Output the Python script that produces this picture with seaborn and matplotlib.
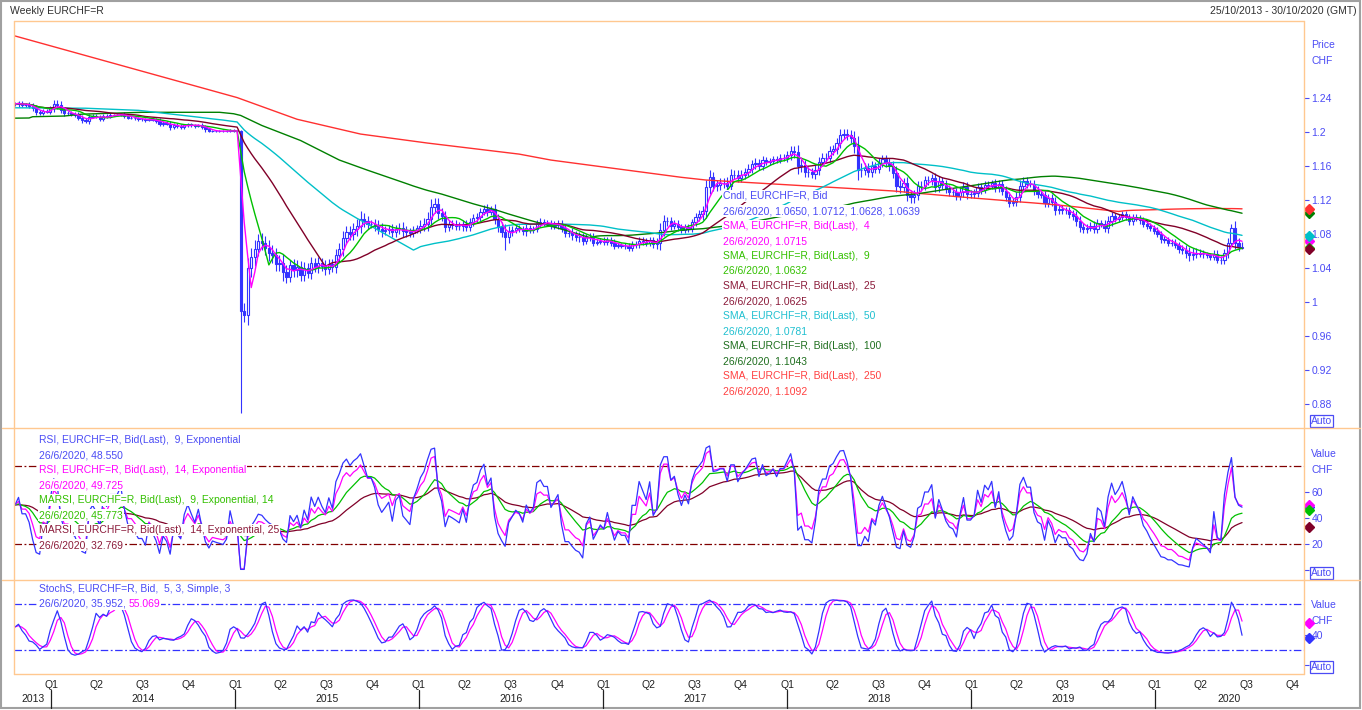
import numpy as np
import pandas as pd
import matplotlib
matplotlib.use("Agg")
import matplotlib.pyplot as plt
import matplotlib.dates as mdates
import matplotlib.transforms as mtransforms
from matplotlib.lines import Line2D
from matplotlib.patches import Rectangle
import seaborn as sns

# ---- data: weekly EURCHF=R bid, 25/10/2013 .. 26/6/2020 ----
first_week = "2013-10-25"
first_open = 1.2330
closes = [
    1.233, 1.234, 1.232, 1.232, 1.231, 1.228, 1.223, 1.222, 1.225, 1.224,
    1.228, 1.233, 1.232, 1.226, 1.222, 1.222, 1.221, 1.220, 1.217, 1.214,
    1.213, 1.218, 1.219, 1.218, 1.215, 1.219, 1.218, 1.220, 1.220, 1.220,
    1.221, 1.219, 1.217, 1.217, 1.216, 1.215, 1.215, 1.214, 1.215, 1.214,
    1.213, 1.210, 1.211, 1.210, 1.206, 1.208, 1.207, 1.206, 1.208, 1.209,
    1.208, 1.207, 1.208, 1.206, 1.203, 1.201, 1.2015, 1.2012, 1.2010, 1.2008,
    1.2010, 1.2022, 1.2010, 1.2010, 0.990, 0.985, 1.040, 1.053, 1.062, 1.072,
    1.070, 1.063, 1.058, 1.055, 1.045, 1.046, 1.035, 1.030, 1.043, 1.038,
    1.041, 1.032, 1.040, 1.034, 1.046, 1.041, 1.046, 1.042, 1.039, 1.045,
    1.041, 1.055, 1.062, 1.075, 1.082, 1.080, 1.086, 1.090, 1.098, 1.095,
    1.092, 1.092, 1.090, 1.086, 1.084, 1.085, 1.086, 1.082, 1.086, 1.087,
    1.083, 1.082, 1.081, 1.085, 1.087, 1.090, 1.092, 1.098, 1.112, 1.115,
    1.105, 1.101, 1.088, 1.092, 1.091, 1.090, 1.089, 1.092, 1.088, 1.094,
    1.099, 1.100, 1.106, 1.110, 1.106, 1.109, 1.098, 1.088, 1.082, 1.076,
    1.083, 1.085, 1.087, 1.086, 1.083, 1.087, 1.085, 1.086, 1.093, 1.094,
    1.093, 1.093, 1.090, 1.091, 1.092, 1.087, 1.081, 1.081, 1.079, 1.077,
    1.076, 1.072, 1.076, 1.077, 1.070, 1.071, 1.072, 1.071, 1.073, 1.070,
    1.066, 1.067, 1.066, 1.066, 1.064, 1.068, 1.068, 1.072, 1.071, 1.070,
    1.073, 1.068, 1.069, 1.085, 1.095, 1.095, 1.090, 1.092, 1.088, 1.085,
    1.088, 1.086, 1.094, 1.100, 1.103, 1.107, 1.135, 1.147, 1.137, 1.138,
    1.140, 1.140, 1.137, 1.150, 1.150, 1.146, 1.150, 1.153, 1.157, 1.162,
    1.163, 1.160, 1.167, 1.165, 1.166, 1.168, 1.167, 1.170, 1.170, 1.173,
    1.178, 1.176, 1.160, 1.161, 1.153, 1.153, 1.151, 1.155, 1.165, 1.170,
    1.170, 1.178, 1.180, 1.187, 1.197, 1.198, 1.196, 1.193, 1.183, 1.155,
    1.155, 1.158, 1.153, 1.160, 1.157, 1.164, 1.168, 1.164, 1.160, 1.152,
    1.137, 1.135, 1.140, 1.126, 1.123, 1.126, 1.136, 1.137, 1.143, 1.143,
    1.146, 1.135, 1.142, 1.138, 1.133, 1.130, 1.129, 1.125, 1.130, 1.135,
    1.127, 1.127, 1.128, 1.135, 1.132, 1.138, 1.137, 1.140, 1.134, 1.139,
    1.131, 1.124, 1.117, 1.118, 1.124, 1.137, 1.142, 1.139, 1.139, 1.131,
    1.127, 1.126, 1.117, 1.122, 1.118, 1.108, 1.110, 1.108, 1.108, 1.103,
    1.101, 1.095, 1.088, 1.086, 1.087, 1.090, 1.086, 1.093, 1.092, 1.087,
    1.095, 1.101, 1.098, 1.100, 1.103, 1.100, 1.095, 1.100, 1.098, 1.096,
    1.092, 1.090, 1.087, 1.084, 1.080, 1.074, 1.073, 1.070, 1.070, 1.067,
    1.062, 1.061, 1.058, 1.055, 1.057, 1.058, 1.057, 1.056, 1.055, 1.053,
    1.057, 1.050, 1.049, 1.058, 1.069, 1.087, 1.070, 1.065, 1.0639,
]
# wick length beyond the candle body, in pips (estimated)
wick_pips = [
    25, 30, 20, 25, 30, 30, 35, 25, 25, 20,
    30, 45, 50, 40, 30, 25, 25, 20, 30, 30,
    25, 30, 20, 20, 25, 20, 20, 20, 15, 15,
    15, 20, 20, 15, 15, 15, 15, 20, 15, 15,
    20, 30, 25, 20, 35, 30, 25, 20, 20, 20,
    20, 20, 15, 25, 25, 15, 10, 10, 10, 10,
    10, 10, 15, 15, 0, 90, 120, 100, 110, 80,
    90, 80, 100, 90, 80, 90, 100, 80, 70, 80,
    80, 70, 70, 60, 70, 60, 70, 60, 70, 60,
    60, 70, 80, 80, 70, 70, 70, 80, 90, 70,
    60, 50, 60, 60, 70, 50, 50, 60, 50, 60,
    70, 60, 50, 40, 40, 60, 70, 80, 90, 70,
    70, 60, 60, 50, 50, 50, 40, 50, 50, 50,
    40, 50, 50, 40, 50, 40, 60, 60, 60, 0,
    60, 50, 40, 40, 40, 50, 40, 40, 40, 50,
    40, 40, 40, 40, 50, 50, 50, 40, 60, 50,
    50, 50, 40, 40, 40, 30, 30, 40, 40, 40,
    40, 30, 30, 40, 40, 40, 40, 40, 40, 40,
    40, 40, 60, 80, 70, 50, 50, 40, 40, 40,
    40, 40, 40, 50, 50, 60, 80, 80, 60, 60,
    60, 60, 70, 70, 50, 50, 50, 50, 50, 50,
    60, 50, 50, 40, 40, 40, 40, 40, 40, 50,
    60, 60, 90, 70, 60, 60, 50, 60, 60, 50,
    50, 50, 50, 60, 60, 50, 50, 60, 80, 120,
    80, 60, 60, 60, 50, 50, 50, 50, 60, 60,
    80, 70, 60, 70, 60, 60, 60, 50, 50, 50,
    50, 60, 60, 50, 50, 50, 40, 50, 50, 60,
    60, 50, 50, 50, 50, 40, 40, 40, 50, 40,
    50, 50, 50, 40, 50, 60, 50, 50, 40, 50,
    50, 40, 50, 50, 50, 60, 40, 40, 40, 40,
    50, 60, 60, 50, 50, 40, 50, 50, 40, 50,
    60, 50, 40, 40, 40, 40, 40, 40, 30, 40,
    40, 40, 30, 40, 40, 40, 40, 40, 40, 40,
    40, 50, 60, 70, 60, 50, 40, 40, 30, 30,
    40, 40, 40, 40, 60, 0, 80, 50, 0,
]
# weeks whose high / low are read directly
bar_extremes = {64: (1.2020, 0.8694), 139: (1.0920, 1.0610),
                345: (1.0914, 1.0660), 348: (1.0712, 1.0628)}

# long averages before their window is full (history before 2013 is off the chart)
sma50_lead_weeks = [0, 20, 35]
sma50_lead_vals = [1.2285, 1.2280, 1.2255]
sma100_lead_weeks = [0, 4, 5, 14, 19, 36, 58, 62, 64, 70, 81, 92]
sma100_lead_vals = [1.2163, 1.2165, 1.2180, 1.2188, 1.2210, 1.2232, 1.2232,
                    1.2215, 1.2195, 1.2077, 1.1900, 1.1670]
sma250_lead_weeks = [0, 63, 80, 98, 117, 143, 152, 189, 196]
sma250_lead_vals = [1.313, 1.2405, 1.215, 1.1976, 1.187, 1.174, 1.167, 1.1467, 1.1435]

price_ticks = [0.88, 0.92, 0.96, 1.00, 1.04, 1.08, 1.12, 1.16, 1.20, 1.24]

# ---- colours ----
CANDLE = "#3333FF"
TXTBLUE = "#4B4BF5"
MAG = "#FF00FF"
GREEN = "#00C000"
MAROON = "#800028"
CYAN = "#00C0C8"
DKGREEN = "#008000"
RED = "#FF3030"
ORANGE = "#FFC890"

# ---- derived series ----
fridays = pd.date_range(first_week, periods=len(closes), freq="7D")
x = mdates.date2num(fridays - pd.Timedelta(days=4))  # bars sit on the Monday
close = pd.Series(closes)
opens = pd.Series([first_open] + closes[:-1])
wick = pd.Series(wick_pips) / 10000.0
high = np.maximum(opens, close) + wick
low = np.minimum(opens, close) - wick
for i, (h, l) in bar_extremes.items():
    high[i] = h
    low[i] = l

sma_short = {n: close.rolling(n, min_periods=1).mean() for n in (4, 9, 25)}


def long_sma(n, lead_w, lead_v):
    full = close.rolling(n).mean().values
    idx = np.arange(n - 1, len(close))
    return (np.concatenate([x[lead_w], x[idx]]),
            np.concatenate([lead_v, full[idx]]))


def rsi(s, n):
    # seed gains and losses with the same early average move, so the line starts near 50
    d = s.diff().iloc[1:]
    seed = pd.Series([d.abs().iloc[:n].mean() / 2])
    up = pd.concat([seed, d.clip(lower=0)]).ewm(span=n, adjust=False).mean()
    dn = pd.concat([seed, -d.clip(upper=0)]).ewm(span=n, adjust=False).mean()
    out = 100 * up / (up + dn)
    out.index = s.index
    return out


rsi9 = rsi(close, 9)
rsi14 = rsi(close, 14)
marsi9 = rsi9.ewm(span=14, adjust=False).mean()
marsi14 = rsi14.ewm(span=25, adjust=False).mean()

ll = low.rolling(5, min_periods=1).min()
hh = high.rolling(5, min_periods=1).max()
raw_k = 100 * (close - ll) / (hh - ll)
slow_k = raw_k.rolling(3, min_periods=1).mean()
slow_d = slow_k.rolling(3, min_periods=1).mean()

# ---- figure ----
sns.set_theme(style="white")
plt.rcParams["font.family"] = ["Liberation Sans", "DejaVu Sans"]
W, H = 1362, 710
fig = plt.figure(figsize=(W / 100, H / 100), dpi=100)
fig.patch.set_facecolor("white")


def box(top, bottom):
    return [14 / W, 1 - bottom / H, 1290 / W, (bottom - top) / H]


ax_p = fig.add_axes(box(21, 428))
ax_r = fig.add_axes(box(428, 580))
ax_s = fig.add_axes(box(580, 674))

monday0 = mdates.date2num(pd.Timestamp("2013-10-21"))
xlim = (monday0 - 0.28 * 7, monday0 + 365.57 * 7)
for ax in (ax_p, ax_r, ax_s):
    ax.set_xlim(*xlim)
    ax.set_facecolor("white")
    for sp in ax.spines.values():
        sp.set_visible(False)
    ax.yaxis.tick_right()
    ax.tick_params(axis="y", direction="out", length=3.8, width=0.8,
                   color=TXTBLUE, labelcolor=TXTBLUE, labelsize=7.5, pad=1.5)
    ax.tick_params(axis="x", bottom=False, labelbottom=False)
    ax.grid(False)

# price panel
ax_p.set_ylim(0.8518, 1.3306)
ax_p.set_yticks(price_ticks)
ax_p.set_yticklabels([f"{v:g}" for v in price_ticks])

ax_p.vlines(x, low, high, color=CANDLE, lw=0.8, zorder=2)
up = (close >= opens).values
body = (close - opens).abs().values
ax_p.bar(x[up], body[up], bottom=opens.values[up], width=4.4,
         facecolor="white", edgecolor=CANDLE, linewidth=0.8, zorder=3)
ax_p.bar(x[~up], body[~up], bottom=close.values[~up], width=4.4,
         facecolor=CANDLE, edgecolor=CANDLE, linewidth=0.8, zorder=3)

for n, wk, vl, col in [(250, sma250_lead_weeks, sma250_lead_vals, RED),
                       (100, sma100_lead_weeks, sma100_lead_vals, DKGREEN),
                       (50, sma50_lead_weeks, sma50_lead_vals, CYAN)]:
    xs, ys = long_sma(n, wk, vl)
    sns.lineplot(x=xs, y=ys, ax=ax_p, color=col, linewidth=1.0, zorder=4,
                 errorbar=None, sort=False)
for n, col in [(25, MAROON), (9, GREEN), (4, MAG)]:
    sns.lineplot(x=x, y=sma_short[n].values, ax=ax_p, color=col, linewidth=1.0,
                 zorder=4, errorbar=None, sort=False)

# RSI panel
ax_r.set_ylim(-7.7, 109.2)
ax_r.set_yticks([0, 20, 40, 60])
ax_r.set_yticklabels(["", "20", "40", "60"])
for lvl in (80, 20):
    ax_r.axhline(lvl, color="#800000", lw=0.9, ls=(0, (6, 2, 1.5, 2)), zorder=1)
for ser, col in [(marsi14, MAROON), (marsi9, GREEN), (rsi14, MAG), (rsi9, CANDLE)]:
    sns.lineplot(x=x, y=ser.values, ax=ax_r, color=col, linewidth=0.9,
                 zorder=3, errorbar=None, sort=False)

# stochastic panel
ax_s.set_ylim(-11.3, 111.3)
ax_s.set_yticks([0, 40])
ax_s.set_yticklabels(["", "40"])
for lvl in (80, 20):
    ax_s.axhline(lvl, color=CANDLE, lw=0.9, ls=(0, (6, 2, 1.5, 2)), zorder=1)
for ser, col in [(slow_d, MAG), (slow_k, CANDLE)]:
    sns.lineplot(x=x, y=ser.values, ax=ax_s, color=col, linewidth=0.9,
                 zorder=3, errorbar=None, sort=False)


# right side captions and last-value diamonds
def side_text(ax, py, s, boxed=False):
    trans = mtransforms.blended_transform_factory(ax.transAxes, fig.transFigure)
    kw = {}
    if boxed:
        kw["bbox"] = dict(boxstyle="square,pad=0.12", fc="white", ec=TXTBLUE, lw=0.9)
    ax.text((1311 - 14) / 1290, 1 - py / H, s, transform=trans, color=TXTBLUE,
            fontsize=7.5, va="center", ha="left", zorder=5, clip_on=False, **kw)


def diamond(ax, val, col):
    trans = mtransforms.blended_transform_factory(ax.transAxes, ax.transData)
    ax.plot([(1309 - 14) / 1290], [val], transform=trans, marker="D", ms=5,
            color=col, clip_on=False, zorder=6)


side_text(ax_p, 45, "Price")
side_text(ax_p, 61, "CHF")
side_text(ax_p, 421, "Auto", boxed=True)
side_text(ax_r, 454, "Value")
side_text(ax_r, 470, "CHF")
side_text(ax_r, 573, "Auto", boxed=True)
side_text(ax_s, 605, "Value")
side_text(ax_s, 621, "CHF")
side_text(ax_s, 667, "Auto", boxed=True)

for val, col in [(1.1043, DKGREEN), (1.1092, RED), (1.0715, MAG), (1.0781, CYAN),
                 (1.0632, GREEN), (1.0625, MAROON)]:
    diamond(ax_p, val, col)
for val, col in [(48.550, CANDLE), (49.725, MAG), (45.773, GREEN), (32.769, MAROON)]:
    diamond(ax_r, val, col)
for val, col in [(35.952, CANDLE), (55.069, MAG)]:
    diamond(ax_s, val, col)


# legends (white backed text, as on the terminal)
def ftext(px, py, s, col, ha="left"):
    return fig.text(px / W, 1 - py / H, s, color=col, fontsize=7.5, va="center", ha=ha,
                    bbox=dict(boxstyle="square,pad=0.08", fc="white", ec="none"),
                    zorder=10)


price_legend = [
    ("Cndl, EURCHF=R, Bid", TXTBLUE),
    ("26/6/2020, 1.0650, 1.0712, 1.0628, 1.0639", TXTBLUE),
    ("SMA, EURCHF=R, Bid(Last),  4", MAG),
    ("26/6/2020, 1.0715", MAG),
    ("SMA, EURCHF=R, Bid(Last),  9", "#33C000"),
    ("26/6/2020, 1.0632", "#33C000"),
    ("SMA, EURCHF=R, Bid(Last),  25", "#8B1A3A"),
    ("26/6/2020, 1.0625", "#8B1A3A"),
    ("SMA, EURCHF=R, Bid(Last),  50", "#20C0D0"),
    ("26/6/2020, 1.0781", "#20C0D0"),
    ("SMA, EURCHF=R, Bid(Last),  100", "#1E6E1E"),
    ("26/6/2020, 1.1043", "#1E6E1E"),
    ("SMA, EURCHF=R, Bid(Last),  250", "#FF4040"),
    ("26/6/2020, 1.1092", "#FF4040"),
]
for k, (s, c) in enumerate(price_legend):
    ftext(723, 196 + 15 * k, s, c)

rsi_legend = [
    ("RSI, EURCHF=R, Bid(Last),  9, Exponential", TXTBLUE),
    ("26/6/2020, 48.550", TXTBLUE),
    ("RSI, EURCHF=R, Bid(Last),  14, Exponential", MAG),
    ("26/6/2020, 49.725", MAG),
    ("MARSI, EURCHF=R, Bid(Last),  9, Exponential, 14", "#33C000"),
    ("26/6/2020, 45.773", "#33C000"),
    ("MARSI, EURCHF=R, Bid(Last),  14, Exponential, 25", "#8B1A3A"),
    ("26/6/2020, 32.769", "#8B1A3A"),
]
for k, (s, c) in enumerate(rsi_legend):
    ftext(39, 440 + 15 * k, s, c)

ftext(39, 589, "StochS, EURCHF=R, Bid,  5, 3, Simple, 3", TXTBLUE)
t = ftext(39, 604, "26/6/2020, 35.952, ", TXTBLUE)
fig.canvas.draw()
bb = t.get_window_extent()
ftext(bb.x1, 604, "55.069", MAG)

# header
fig.text(10 / W, 1 - 10.5 / H, "Weekly EURCHF=R", color="#303030", fontsize=7.5,
         va="center", ha="left")
fig.text(1357 / W, 1 - 10.5 / H, "25/10/2013 - 30/10/2020 (GMT)", color="#303030",
         fontsize=7.5, va="center", ha="right")

# time axis: quarters, years and year separators
tq = mtransforms.blended_transform_factory(ax_s.transData, fig.transFigure)
for q in pd.date_range("2014-01-01", "2020-10-01", freq="QS"):
    fig.text(mdates.date2num(q), 1 - 685 / H, f"Q{(q.month - 1) // 3 + 1}",
             transform=tq, fontsize=7.5, color="#202020", ha="center", va="center")
for yr in range(2013, 2021):
    a = max(xlim[0], mdates.date2num(pd.Timestamp(f"{yr}-01-01")))
    b = min(xlim[1], mdates.date2num(pd.Timestamp(f"{yr + 1}-01-01")))
    fig.text((a + b) / 2, 1 - 699 / H, str(yr), transform=tq, fontsize=7.5,
             color="#202020", ha="center", va="center")
    if yr > 2013:
        fig.add_artist(Line2D([a, a], [1 - 690 / H, 1 - 708 / H], transform=tq,
                              color="#202020", lw=0.9))


# panel borders
def fline(x0, y0, x1, y1, col=ORANGE, lw=1.0):
    fig.add_artist(Line2D([x0 / W, x1 / W], [1 - y0 / H, 1 - y1 / H],
                          transform=fig.transFigure, color=col, lw=lw))


fline(14, 21, 1304, 21)
fline(14, 674, 1304, 674)
fline(14, 21, 14, 674)
fline(1304, 21, 1304, 674)
fline(2, 428, 1360, 428)
fline(2, 580, 1360, 580)
fig.add_artist(Rectangle((1 / W, 1 - 708 / H), 1359 / W, 707 / H, transform=fig.transFigure,
                         fill=False, ec="#A0A0A0", lw=1.5))

fig.savefig("out.png", dpi=100)
